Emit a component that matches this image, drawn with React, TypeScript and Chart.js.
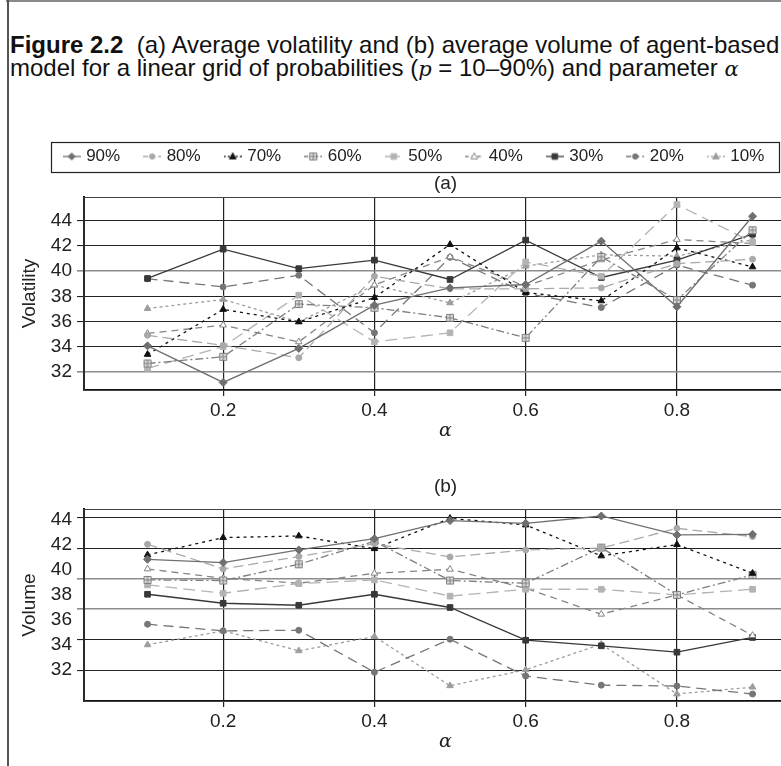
import React, { useEffect, useRef } from 'react';
import { Chart, registerables } from 'chart.js';

Chart.register(...registerables);

// ---------- data ----------
const alphaValues = [0.1, 0.2, 0.3, 0.4, 0.5, 0.6, 0.7, 0.8, 0.9];
const seriesLabels = ['90%', '80%', '70%', '60%', '50%', '40%', '30%', '20%', '10%'];

// (a) average volatility
const volatility90 = [34.06, 31.15, 33.86, 37.3, 38.67, 38.94, 42.39, 37.17, 44.37];
const volatility80 = [34.9, 34.1, 33.11, 39.6, 38.6, 38.6, 38.67, 40.6, 40.95];
const volatility70 = [33.38, 36.96, 35.97, 37.9, 42.12, 38.3, 37.64, 41.85, 40.34];
const volatility60 = [32.66, 33.19, 37.38, 37.09, 36.29, 34.7, 41.14, 37.7, 43.26];
const volatility50 = [32.27, 34.0, 38.09, 34.38, 35.1, 40.74, 39.6, 45.3, 42.3];
const volatility40 = [35.05, 35.71, 34.38, 38.9, 41.14, 38.8, 40.9, 42.52, 42.2];
const volatility30 = [39.42, 41.75, 40.2, 40.88, 39.34, 42.47, 39.5, 40.88, 42.94];
const volatility20 = [39.4, 38.75, 39.68, 35.1, 41.1, 38.25, 37.11, 40.48, 38.89];
const volatility10 = [37.03, 37.75, 35.97, 38.89, 37.48, 40.4, 41.3, 41.2, 42.5];

// (b) average volume
const volume90 = [40.85, 40.59, 41.6, 42.5, 43.95, 43.73, 44.32, 42.8, 42.85];
const volume80 = [42.05, 40.08, 41.07, 42.1, 41.04, 41.6, 41.75, 43.33, 42.67];
const volume70 = [41.2, 42.59, 42.72, 41.7, 44.13, 43.6, 41.12, 42.03, 39.73];
const volume60 = [39.2, 39.15, 40.45, 42.3, 39.15, 38.93, 41.79, 38.0, 39.6];
const volume50 = [38.8, 38.13, 38.9, 39.2, 37.9, 38.45, 38.45, 38.0, 38.45];
const volume40 = [40.08, 39.33, 38.93, 39.73, 40.05, 38.53, 36.45, 38.0, 34.75];
const volume30 = [38.05, 37.33, 37.17, 38.05, 36.99, 34.37, 33.92, 33.41, 34.59];
const volume20 = [35.65, 35.12, 35.17, 31.8, 34.45, 31.5, 30.77, 30.7, 30.06];
const volume10 = [34.0, 35.12, 33.52, 34.67, 30.72, 32.0, 34.05, 30.06, 30.61];

const xTickValues = [0.2, 0.4, 0.6, 0.8];
const yTickValues = [44, 42, 40, 38, 36, 34, 32];
const volatilityGreyGrid = [40, 32];
const volumeGridSteps = [1, 2, 3, 4, 5, 6];
const volumeGreyGrid = [3, 4];

const volatilitySeries = [volatility90, volatility80, volatility70, volatility60, volatility50, volatility40, volatility30, volatility20, volatility10];
const volumeSeries = [volume90, volume80, volume70, volume60, volume50, volume40, volume30, volume20, volume10];

// ---------- styles ----------
type Mk = 'diamond' | 'circle' | 'triangle' | 'square' | 'boxed';
const seriesStyles: { color: string; dash: number[]; marker: Mk; fill: string }[] = [
  { color: '#6f6f6f', dash: [], marker: 'diamond', fill: '#6f6f6f' },
  { color: '#a9a9a9', dash: [10, 5], marker: 'circle', fill: '#a9a9a9' },
  { color: '#111111', dash: [3, 4], marker: 'triangle', fill: '#111111' },
  { color: '#7e7e7e', dash: [8, 3, 2, 3], marker: 'boxed', fill: '#dcdcdc' },
  { color: '#b3b3b3', dash: [12, 6], marker: 'square', fill: '#b3b3b3' },
  { color: '#858585', dash: [7, 5], marker: 'triangle', fill: '#ffffff' },
  { color: '#383838', dash: [], marker: 'square', fill: '#383838' },
  { color: '#767676', dash: [10, 6], marker: 'circle', fill: '#767676' },
  { color: '#9d9d9d', dash: [3, 3], marker: 'triangle', fill: '#9d9d9d' },
];

const SANS = '"Liberation Sans", Arial, Helvetica, sans-serif';
const TICK_FONT = { family: SANS, size: 19 };

function drawMarker(ctx: CanvasRenderingContext2D, m: Mk, cx: number, cy: number, stroke: string, fill: string) {
  ctx.save();
  ctx.setLineDash([]);
  ctx.lineWidth = 1;
  ctx.strokeStyle = stroke;
  ctx.fillStyle = fill;
  ctx.beginPath();
  if (m === 'diamond') {
    ctx.moveTo(cx, cy - 3.5); ctx.lineTo(cx + 3.5, cy); ctx.lineTo(cx, cy + 3.5); ctx.lineTo(cx - 3.5, cy); ctx.closePath();
    ctx.fill(); ctx.stroke();
  } else if (m === 'circle') {
    ctx.arc(cx, cy, 2.7, 0, Math.PI * 2); ctx.fill(); ctx.stroke();
  } else if (m === 'triangle') {
    ctx.moveTo(cx, cy - 3.6); ctx.lineTo(cx + 3.3, cy + 2.4); ctx.lineTo(cx - 3.3, cy + 2.4); ctx.closePath();
    ctx.fill(); ctx.stroke();
  } else if (m === 'square') {
    ctx.rect(cx - 2.8, cy - 2.8, 5.6, 5.6); ctx.fill(); ctx.stroke();
  } else {
    ctx.rect(cx - 3.5, cy - 3.5, 7, 7); ctx.fill(); ctx.stroke();
    ctx.beginPath(); ctx.moveTo(cx - 3.5, cy); ctx.lineTo(cx + 3.5, cy); ctx.moveTo(cx, cy - 3.5); ctx.lineTo(cx, cy + 3.5); ctx.stroke();
  }
  ctx.restore();
}

function makeBoxedPoint(stroke: string, fill: string) {
  const c = document.createElement('canvas');
  c.width = 10; c.height = 10;
  const ctx = c.getContext('2d')!;
  ctx.translate(0.5, 0.5);
  drawMarker(ctx, 'boxed', 4.5, 4.5, stroke, fill);
  return c;
}

function makeLegendIcon(i: number) {
  const s = seriesStyles[i];
  const c = document.createElement('canvas');
  c.width = 18; c.height = 12;
  const ctx = c.getContext('2d')!;
  ctx.strokeStyle = s.color;
  ctx.lineWidth = 1.3;
  ctx.setLineDash(s.dash.map((d) => Math.max(2, d * 0.5)));
  ctx.beginPath(); ctx.moveTo(0, 6); ctx.lineTo(18, 6); ctx.stroke();
  drawMarker(ctx, s.marker, 9, 6, s.color, s.fill);
  return c;
}

function buildDatasets(values: number[][]) {
  return seriesLabels.map((label, i) => {
    const s = seriesStyles[i];
    const ps: any = s.marker === 'diamond' ? 'rectRot' : s.marker === 'circle' ? 'circle' : s.marker === 'triangle' ? 'triangle' : s.marker === 'square' ? 'rect' : makeBoxedPoint(s.color, s.fill);
    const radius = s.marker === 'circle' ? 3 : s.marker === 'triangle' ? 3.8 : 4;
    return {
      label,
      data: alphaValues.map((a, j) => ({ x: a, y: values[i][j] })),
      borderColor: s.color,
      borderWidth: 1.3,
      borderDash: s.dash,
      pointStyle: ps,
      pointRadius: radius,
      pointBackgroundColor: s.fill,
      pointBorderColor: s.color,
      pointBorderWidth: 1,
      tension: 0,
      fill: false,
    };
  });
}

const framePlugin = {
  id: 'plotFrame',
  beforeDatasetsDraw(chart: any) {
    const { ctx, chartArea: a } = chart;
    ctx.save();
    ctx.strokeStyle = '#444';
    ctx.lineWidth = 1;
    ctx.strokeRect(a.left, a.top + 0.5, a.right - a.left, a.bottom - a.top);
    ctx.restore();
  },
};

const legendBoxPlugin = {
  id: 'legendBox',
  afterDraw(chart: any) {
    const boxes = chart.legend && chart.legend.legendHitBoxes;
    if (!boxes || !boxes.length) return;
    const first = boxes[0];
    const last = boxes[boxes.length - 1];
    const { ctx } = chart;
    ctx.save();
    ctx.strokeStyle = '#222';
    ctx.lineWidth = 1.2;
    const x0 = Math.round(first.left - 15) + 0.5;
    const x1 = Math.round(last.left + last.width + 15) + 0.5;
    const y0 = Math.round(first.top - 6.5) + 0.5;
    ctx.strokeRect(x0, y0, x1 - x0, first.height + 13);
    ctx.restore();
  },
};

function xScale() {
  return {
    type: 'linear' as const,
    min: 0.016,
    max: 0.972,
    afterBuildTicks: (s: any) => { s.ticks = xTickValues.map((v) => ({ value: v })); },
    afterFit: (s: any) => { s.height = 52; },
    ticks: { font: TICK_FONT, color: '#222', padding: 3, callback: (v: any) => Number(v).toFixed(1) },
    grid: { color: '#222', lineWidth: 1.2, tickLength: 6 },
    border: { display: true, color: '#111', width: 2 },
    title: { display: true, text: 'α', font: { family: '"DejaVu Serif", serif', style: 'italic' as const, size: 19 }, color: '#222', padding: 0 },
  };
}

function VolatilityChart() {
  const ref = useRef<HTMLCanvasElement>(null);
  useEffect(() => {
    const icons = seriesLabels.map((_, i) => makeLegendIcon(i));
    const chart = new Chart(ref.current!, {
      type: 'line',
      data: { datasets: buildDatasets(volatilitySeries) as any },
      options: {
        responsive: false,
        animation: false,
        devicePixelRatio: 1,
        layout: { padding: { left: 18, right: 0, top: 0, bottom: 0 } },
        plugins: {
          legend: {
            display: true,
            position: 'top',
            maxHeight: 44,
            labels: {
              usePointStyle: true,
              pointStyleWidth: 12,
              padding: 26,
              font: { family: SANS, size: 17 },
              color: '#222',
              generateLabels: () => seriesLabels.map((t, i) => ({
                text: t, pointStyle: icons[i] as any, fillStyle: '#fff', strokeStyle: '#fff', lineWidth: 0, hidden: false, datasetIndex: i, fontColor: '#222',
              })),
            },
          },
          title: {
            display: true, text: '(a)', fullSize: false, weight: 500, color: '#222',
            font: { family: SANS, size: 19, weight: 'normal' }, padding: { top: 6.6, bottom: 1.6 },
          },
          tooltip: { enabled: false },
        },
        scales: {
          x: xScale() as any,
          y: {
            min: 30.55,
            max: 45.9,
            afterBuildTicks: (s: any) => { s.ticks = yTickValues.map((v) => ({ value: v })); },
            afterFit: (s: any) => { s.width = 66; },
            ticks: { font: TICK_FONT, color: '#222', padding: 5 },
            grid: {
              color: (c: any) => (c.tick && volatilityGreyGrid.includes(c.tick.value) ? '#8c8c8c' : '#222'),
              lineWidth: (c: any) => (c.tick && volatilityGreyGrid.includes(c.tick.value) ? 1.6 : 1.1),
              tickLength: 7,
            },
            border: { display: true, color: '#111', width: 2 },
            title: { display: true, text: 'Volatility', font: { family: SANS, size: 19 }, color: '#222', padding: 0 },
          },
        },
      },
      plugins: [framePlugin, legendBoxPlugin],
    });
    return () => chart.destroy();
  }, []);
  return <canvas ref={ref} width={812} height={320} style={{ position: 'absolute', left: 0, top: 122 }} />;
}

function VolumeChart() {
  const ref = useRef<HTMLCanvasElement>(null);
  useEffect(() => {
    const chart = new Chart(ref.current!, {
      type: 'line',
      data: { datasets: buildDatasets(volumeSeries) as any },
      options: {
        responsive: false,
        animation: false,
        devicePixelRatio: 1,
        layout: { padding: { left: 18, right: 0, top: 0, bottom: 0 } },
        plugins: {
          legend: { display: false },
          title: {
            display: true, text: '(b)', fullSize: false, color: '#222',
            font: { family: SANS, size: 19, weight: 'normal' }, padding: { top: 5.6, bottom: 10.6 },
          },
          tooltip: { enabled: false },
        },
        scales: {
          x: xScale() as any,
          y: {
            position: 'left',
            weight: 1,
            min: 29.5,
            max: 44.88,
            afterBuildTicks: (s: any) => { s.ticks = yTickValues.map((v) => ({ value: v })); },
            afterFit: (s: any) => { s.width = 59; },
            ticks: { font: TICK_FONT, color: '#222', padding: 5 },
            grid: { display: false, drawTicks: false },
            border: { display: false },
            title: { display: true, text: 'Volume', font: { family: SANS, size: 19 }, color: '#222', padding: 0 },
          },
          y2: {
            position: 'left',
            weight: 0,
            min: 0,
            max: 6.28,
            afterBuildTicks: (s: any) => { s.ticks = volumeGridSteps.map((v) => ({ value: v })); },
            afterFit: (s: any) => { s.width = 7; },
            ticks: { display: false },
            grid: {
              color: (c: any) => (c.tick && volumeGreyGrid.includes(c.tick.value) ? '#8c8c8c' : '#222'),
              lineWidth: (c: any) => (c.tick && volumeGreyGrid.includes(c.tick.value) ? 1.6 : 1.1),
              tickLength: 7,
            },
            border: { display: true, color: '#111', width: 2 },
          },
        },
      },
      plugins: [framePlugin],
    });
    return () => chart.destroy();
  }, []);
  return <canvas ref={ref} width={812} height={283} style={{ position: 'absolute', left: 0, top: 470 }} />;
}

export default function App() {
  const serif = { fontFamily: '"DejaVu Serif", "Liberation Serif", serif', fontStyle: 'italic' as const, fontSize: 21, lineHeight: '1' };
  return (
    <div style={{ position: 'fixed', left: 0, top: 0, width: 781, height: 766, overflow: 'hidden', background: '#fff' }}>
      <div style={{ position: 'absolute', left: 6, top: 0, width: 800, height: 2, background: '#8a8a8a' }} />
      <div style={{ position: 'absolute', left: 7, top: 0, width: 2, height: 766, background: '#555' }} />
      <div style={{ position: 'absolute', left: 10, top: 33, fontFamily: SANS, fontSize: 24, lineHeight: '23px', color: '#111', whiteSpace: 'nowrap' }}>
        <div style={{ height: 23 }}><b>Figure 2.2</b>{'\u00a0 '}(a) Average volatility and (b) average volume of agent-based</div>
        <div style={{ height: 23 }}>model for a linear grid of probabilities (<span style={serif}>p</span> = 10–90%) and parameter <span style={serif}>α</span></div>
      </div>
      <VolatilityChart />
      <VolumeChart />
    </div>
  );
}
